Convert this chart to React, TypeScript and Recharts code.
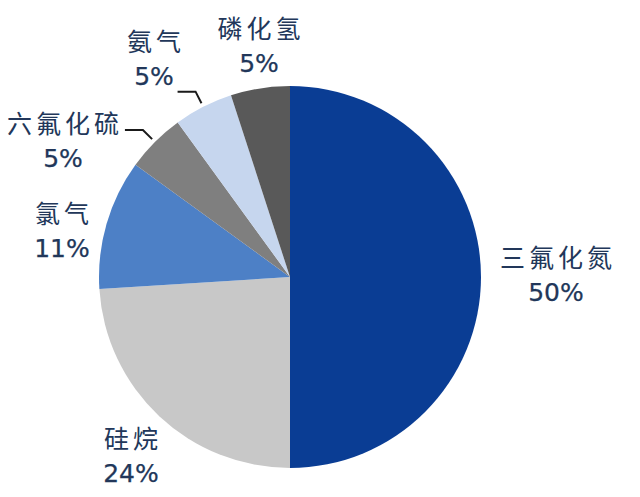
import React from 'react';
import { PieChart, Pie, Cell } from 'recharts';

const gases = ['三氟化氮', '硅烷', '氯气', '六氟化硫', '氨气', '磷化氢'];
const shares = [50, 24, 11, 5, 5, 5];
const colors = ['#0a3d94', '#c8c8c8', '#4d80c6', '#7f7f7f', '#c6d6ee', '#595959'];

// label block centres, relative to the pie centre
const labelOffsets = [
    [266, -3],
    [-159, 178],
    [-228, -47],
    [-227, -137],
    [-136, -219],
    [-31, -232],
];
const withLeader = [false, false, false, true, true, false];

const chartData = gases.map((name, i) => ({ name, value: shares[i] }));

const RAD = Math.PI / 180;
const textColor = '#22375a';

const renderLabel = (props: any) => {
    const { cx, cy, midAngle, outerRadius, index, name, value } = props;
    const [dx, dy] = labelOffsets[index];
    const x = cx + dx;
    const y = cy + dy;
    let leader = null;
    if (withLeader[index]) {
        const cos = Math.cos(-midAngle * RAD);
        const sin = Math.sin(-midAngle * RAD);
        const p1x = cx + (outerRadius + 4) * cos;
        const p1y = cy + (outerRadius + 4) * sin;
        const p2x = cx + (outerRadius + 17) * cos;
        const p2y = cy + (outerRadius + 17) * sin;
        leader = (
            <polyline
                points={`${p1x},${p1y} ${p2x},${p2y} ${p2x - 18},${p2y}`}
                fill="none"
                stroke="#1a1a1a"
                strokeWidth={2}
            />
        );
    }
    return (
        <g>
            {leader}
            <text
                x={x + 2}
                y={y - 18}
                textAnchor="middle"
                dominantBaseline="central"
                fill={textColor}
                fontSize={25}
                letterSpacing={4}
                fontFamily="'Noto Sans CJK SC', sans-serif"
            >
                {name}
            </text>
            <text
                x={x}
                y={y + 18}
                textAnchor="middle"
                dominantBaseline="central"
                fill={textColor}
                stroke={textColor}
                strokeWidth={0.25}
                fontSize={25}
                fontFamily="'DejaVu Sans', sans-serif"
            >
                {value}%
            </text>
        </g>
    );
};

export default function App() {
    return (
        <div style={{ position: 'absolute', left: 0, top: 0, width: 640, height: 497, background: '#fff' }}>
            <PieChart width={640} height={497} margin={{ top: 0, right: 0, bottom: 0, left: 0 }}>
                <Pie
                    data={chartData}
                    dataKey="value"
                    nameKey="name"
                    cx={290}
                    cy={277}
                    outerRadius={191}
                    startAngle={90}
                    endAngle={-270}
                    stroke="none"
                    label={renderLabel}
                    labelLine={false}
                    isAnimationActive={false}
                >
                    {chartData.map((d, i) => (
                        <Cell key={d.name} fill={colors[i]} />
                    ))}
                </Pie>
            </PieChart>
        </div>
    );
}
